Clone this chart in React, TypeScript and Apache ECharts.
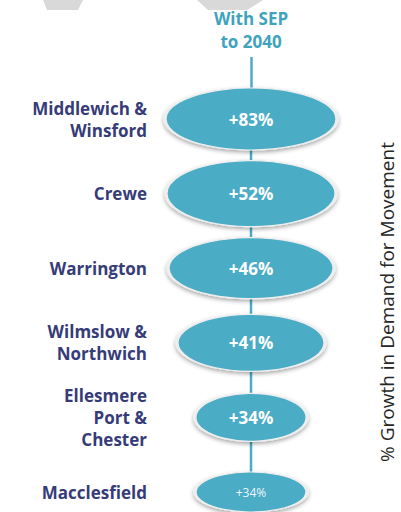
import React, { useEffect, useRef } from "react";
import * as echarts from "echarts";

const scenario = ["With SEP\nto 2040"];
const categories = [
  "Middlewich &\nWinsford",
  "Crewe",
  "Warrington",
  "Wilmslow &\nNorthwich",
  "Ellesmere\nPort &\nChester",
  "Macclesfield",
];
const growthValues = [83, 52, 46, 41, 34, 34];
const axisTitle = "% Growth in Demand for Movement";

// styling constants
const ELLIPSE_SIZES = [
  [172, 62],
  [170, 66],
  [166, 61],
  [148, 57],
  [112, 48],
  [112, 40],
];
const TEAL = "#4BACC6";
const NAVY = "#363C78";
const FONT = "'Open Sans', sans-serif";

export default function App() {
  const ref = useRef<HTMLDivElement>(null);
  useEffect(() => {
    if (!ref.current) return;
    const chart = echarts.init(ref.current, undefined, { renderer: "svg" });
    const pts = categories.map((c, i) => [scenario[0], c, growthValues[i]]);
    const last = categories.length - 1;
    chart.setOption({
      animation: false,
      backgroundColor: "#ffffff",
      grid: { left: 155, right: 54, top: 119, bottom: 20 },
      xAxis: {
        type: "category",
        position: "top",
        data: scenario,
        boundaryGap: true,
        axisLine: { show: false },
        axisTick: {
          show: true,
          alignWithLabel: true,
          length: 62,
          lineStyle: { color: TEAL, width: 2.5 },
        },
        axisLabel: {
          margin: 66,
          color: "#3FA3BD",
          fontWeight: "bold",
          fontSize: 17,
          lineHeight: 23,
          fontFamily: FONT,
        },
        splitLine: { show: false },
      },
      yAxis: {
        type: "category",
        inverse: true,
        boundaryGap: false,
        data: categories,
        axisLine: { show: false },
        axisTick: { show: false },
        splitLine: { show: false },
        axisLabel: {
          margin: 8,
          color: NAVY,
          fontWeight: "bold",
          fontSize: 17,
          lineHeight: 22,
          align: "right",
          fontFamily: FONT,
        },
      },
      graphic: [
        {
          type: "polygon",
          shape: { points: [[43, 0], [83, 0], [78, 10], [47, 10]] },
          style: { fill: "#d9d9d9" },
          silent: true,
        },
        {
          type: "polygon",
          shape: { points: [[197, 0], [263, 0], [247, 10], [208, 10]] },
          style: { fill: "#d9d9d9" },
          silent: true,
        },
        {
          type: "text",
          x: 387,
          y: 302,
          rotation: Math.PI / 2,
          style: {
            text: axisTitle,
            fill: "#262626",
            fontSize: 19,
            fontFamily: FONT,
            align: "center",
            verticalAlign: "middle",
          },
          silent: true,
        },
      ],
      series: [
        {
          type: "line",
          data: pts,
          symbol: "none",
          z: 1,
          lineStyle: { color: TEAL, width: 2.5 },
        },
        {
          type: "scatter",
          z: 3,
          symbol: "circle",
          data: pts.map((p, i) => ({
            value: p,
            symbolSize: ELLIPSE_SIZES[i],
            label:
              i === last
                ? { fontSize: 12, fontWeight: "normal", color: "rgba(255,255,255,0.92)" }
                : undefined,
          })),
          itemStyle: {
            color: TEAL,
            borderColor: "#eeeeee",
            borderWidth: 2,
            shadowColor: "rgba(0,0,0,0.35)",
            shadowBlur: 4,
            shadowOffsetY: 2,
            opacity: 1,
          },
          label: {
            show: true,
            position: "inside",
            color: "#ffffff",
            fontWeight: "bold",
            fontSize: 17,
            fontFamily: FONT,
            formatter: (p: any) => "+" + p.value[2] + "%",
          },
          emphasis: { disabled: true },
        },
      ],
    });
    return () => chart.dispose();
  }, []);
  return (
    <div
      ref={ref}
      style={{ position: "fixed", left: 0, top: 0, width: 401, height: 512 }}
    />
  );
}
